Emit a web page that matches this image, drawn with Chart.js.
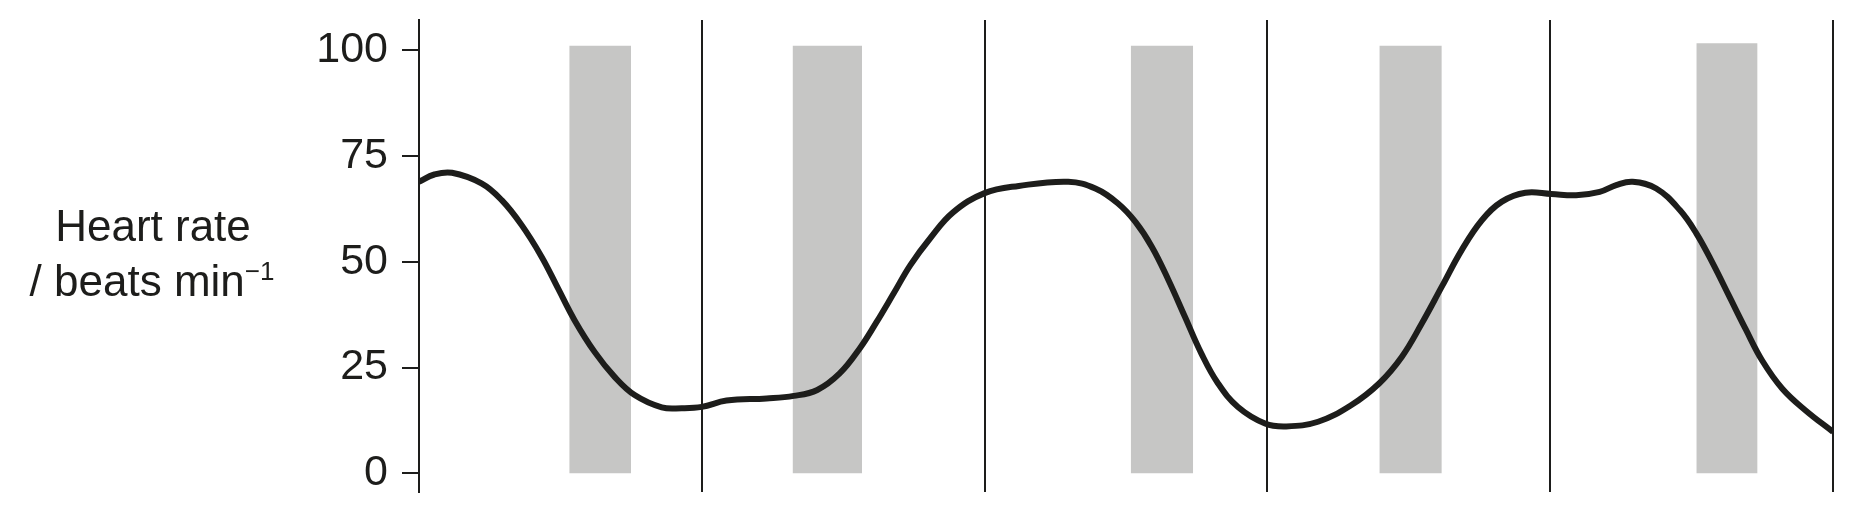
<!DOCTYPE html>
<html>
<head>
<meta charset="utf-8">
<title>Heart rate</title>
<script src="https://cdn.jsdelivr.net/npm/chart.js@4.4.1/dist/chart.umd.min.js"></script>
<style>
  html, body { margin: 0; padding: 0; background: #fff; }
  #hr { display: block; }
</style>
</head>
<body>
<canvas id="hr" width="1849" height="508"></canvas>
<script>
// time in hours, one vertical line per 24 h
const hours = [0, 1.3, 2.8, 5.3, 7.0, 8.7, 10.4, 11.8, 13.2, 14.9, 16.6, 18.3, 20.6, 22.3, 24,
  26.1, 29.5, 31.8, 33.8, 35.7, 37.4, 38.8, 40.3, 41.7, 43.4, 45.3, 48, 50.9, 55.1, 57.4,
  59.3, 60.8, 62.2, 63.6, 65.0, 66.4, 67.8, 69.5, 71.8, 73.6, 76.3, 79.1, 81.5, 83.4, 85.1,
  86.8, 88.5, 90.2, 91.9, 93.9, 96.1, 98.2, 100.2, 101.6, 103.0, 105.0, 107.0, 108.4, 109.8,
  111.2, 112.6, 114.0, 115.7, 117.7, 120];
const heartRate = [68.9, 70.6, 71.0, 68.5, 64.6, 58.7, 51.2, 43.7, 36.2, 28.7, 22.8, 18.5, 15.6, 15.4, 15.7,
  17.2, 17.7, 18.3, 19.7, 23.6, 29.5, 35.6, 42.6, 49.2, 55.6, 61.6, 66.2, 67.9, 68.9, 67.3,
  63.8, 59.4, 53.5, 45.7, 37.0, 28.3, 21.3, 15.7, 11.8, 11.1, 12.2, 16.1, 21.3, 27.5, 35.4,
  44.1, 52.8, 59.8, 64.2, 66.3, 66.0, 65.7, 66.5, 68.1, 68.9, 67.3, 62.2, 56.7, 49.6,
  41.8, 34.0, 26.6, 20.0, 14.8, 9.8];

// grey bands
const bandStart = [12.75, 31.7, 60.4, 81.5, 108.4];
const bandEnd = [18.0, 37.6, 65.7, 86.8, 113.6];
const bandTop = [101, 101, 101, 101, 101.6];

const yTicks = [0, 25, 50, 75, 100];
const dayLines = 24;

const INK = '#1d1d1b';
const FONT = "'Liberation Sans', Arial, Helvetica, sans-serif";

const bandSets = bandStart.map((s, i) => ({
  data: [{ x: s, y: 0 }, { x: s, y: bandTop[i] }, { x: bandEnd[i], y: bandTop[i] }, { x: bandEnd[i], y: 0 }],
  borderWidth: 0,
  backgroundColor: '#c6c6c5',
  fill: 'origin',
  pointRadius: 0,
  tension: 0,
  order: 2,
}));

const titlePlugin = {
  id: 'yTitle',
  afterDraw(chart) {
    const ctx = chart.ctx;
    ctx.save();
    ctx.fillStyle = INK;
    ctx.textBaseline = 'alphabetic';
    ctx.font = `44px ${FONT}`;
    ctx.textAlign = 'center';
    ctx.fillText('Heart rate', 153, 241);
    // second line with superscript
    const main = '/ beats min';
    const sup = '\u22121';
    const wMain = ctx.measureText(main).width;
    ctx.font = `26px ${FONT}`;
    const wSup = ctx.measureText(sup).width;
    const left = 152 - (wMain + wSup) / 2;
    ctx.textAlign = 'left';
    ctx.fillText(sup, left + wMain, 280);
    ctx.font = `44px ${FONT}`;
    ctx.fillText(main, left, 296);
    ctx.restore();
  },
};

new Chart(document.getElementById('hr'), {
  type: 'line',
  data: {
    datasets: [
      {
        data: hours.map((h, i) => ({ x: h, y: heartRate[i] })),
        borderColor: INK,
        borderWidth: 6,
        pointRadius: 0,
        fill: false,
        tension: 0.4,
        order: 1,
      },
      ...bandSets,
    ],
  },
  options: {
    responsive: false,
    animation: false,
    devicePixelRatio: 1,
    layout: { padding: { left: 0, right: 16, top: 20, bottom: 16 } },
    plugins: { legend: { display: false }, tooltip: { enabled: false } },
    scales: {
      x: {
        type: 'linear',
        min: 0, max: 120,
        ticks: { display: false, stepSize: dayLines },
        grid: { color: INK, lineWidth: 2, drawTicks: false },
        border: { display: false },
        afterFit: (scale) => { scale.height = 0; scale.paddingLeft = 0; scale.paddingRight = 0; },
      },
      y: {
        min: -4.4, max: 107.1,
        afterBuildTicks: (scale) => { scale.ticks = yTicks.map(v => ({ value: v })); },
        afterFit: (scale) => { scale.width = 419; scale.paddingTop = 0; scale.paddingBottom = 0; },
        ticks: { color: INK, font: { family: FONT, size: 43 }, padding: 14 },
        grid: { drawOnChartArea: false, color: INK, lineWidth: 2, tickLength: 17 },
        border: { display: true, color: INK, width: 2 },
      },
    },
  },
  plugins: [titlePlugin],
});
</script>
</body>
</html>
